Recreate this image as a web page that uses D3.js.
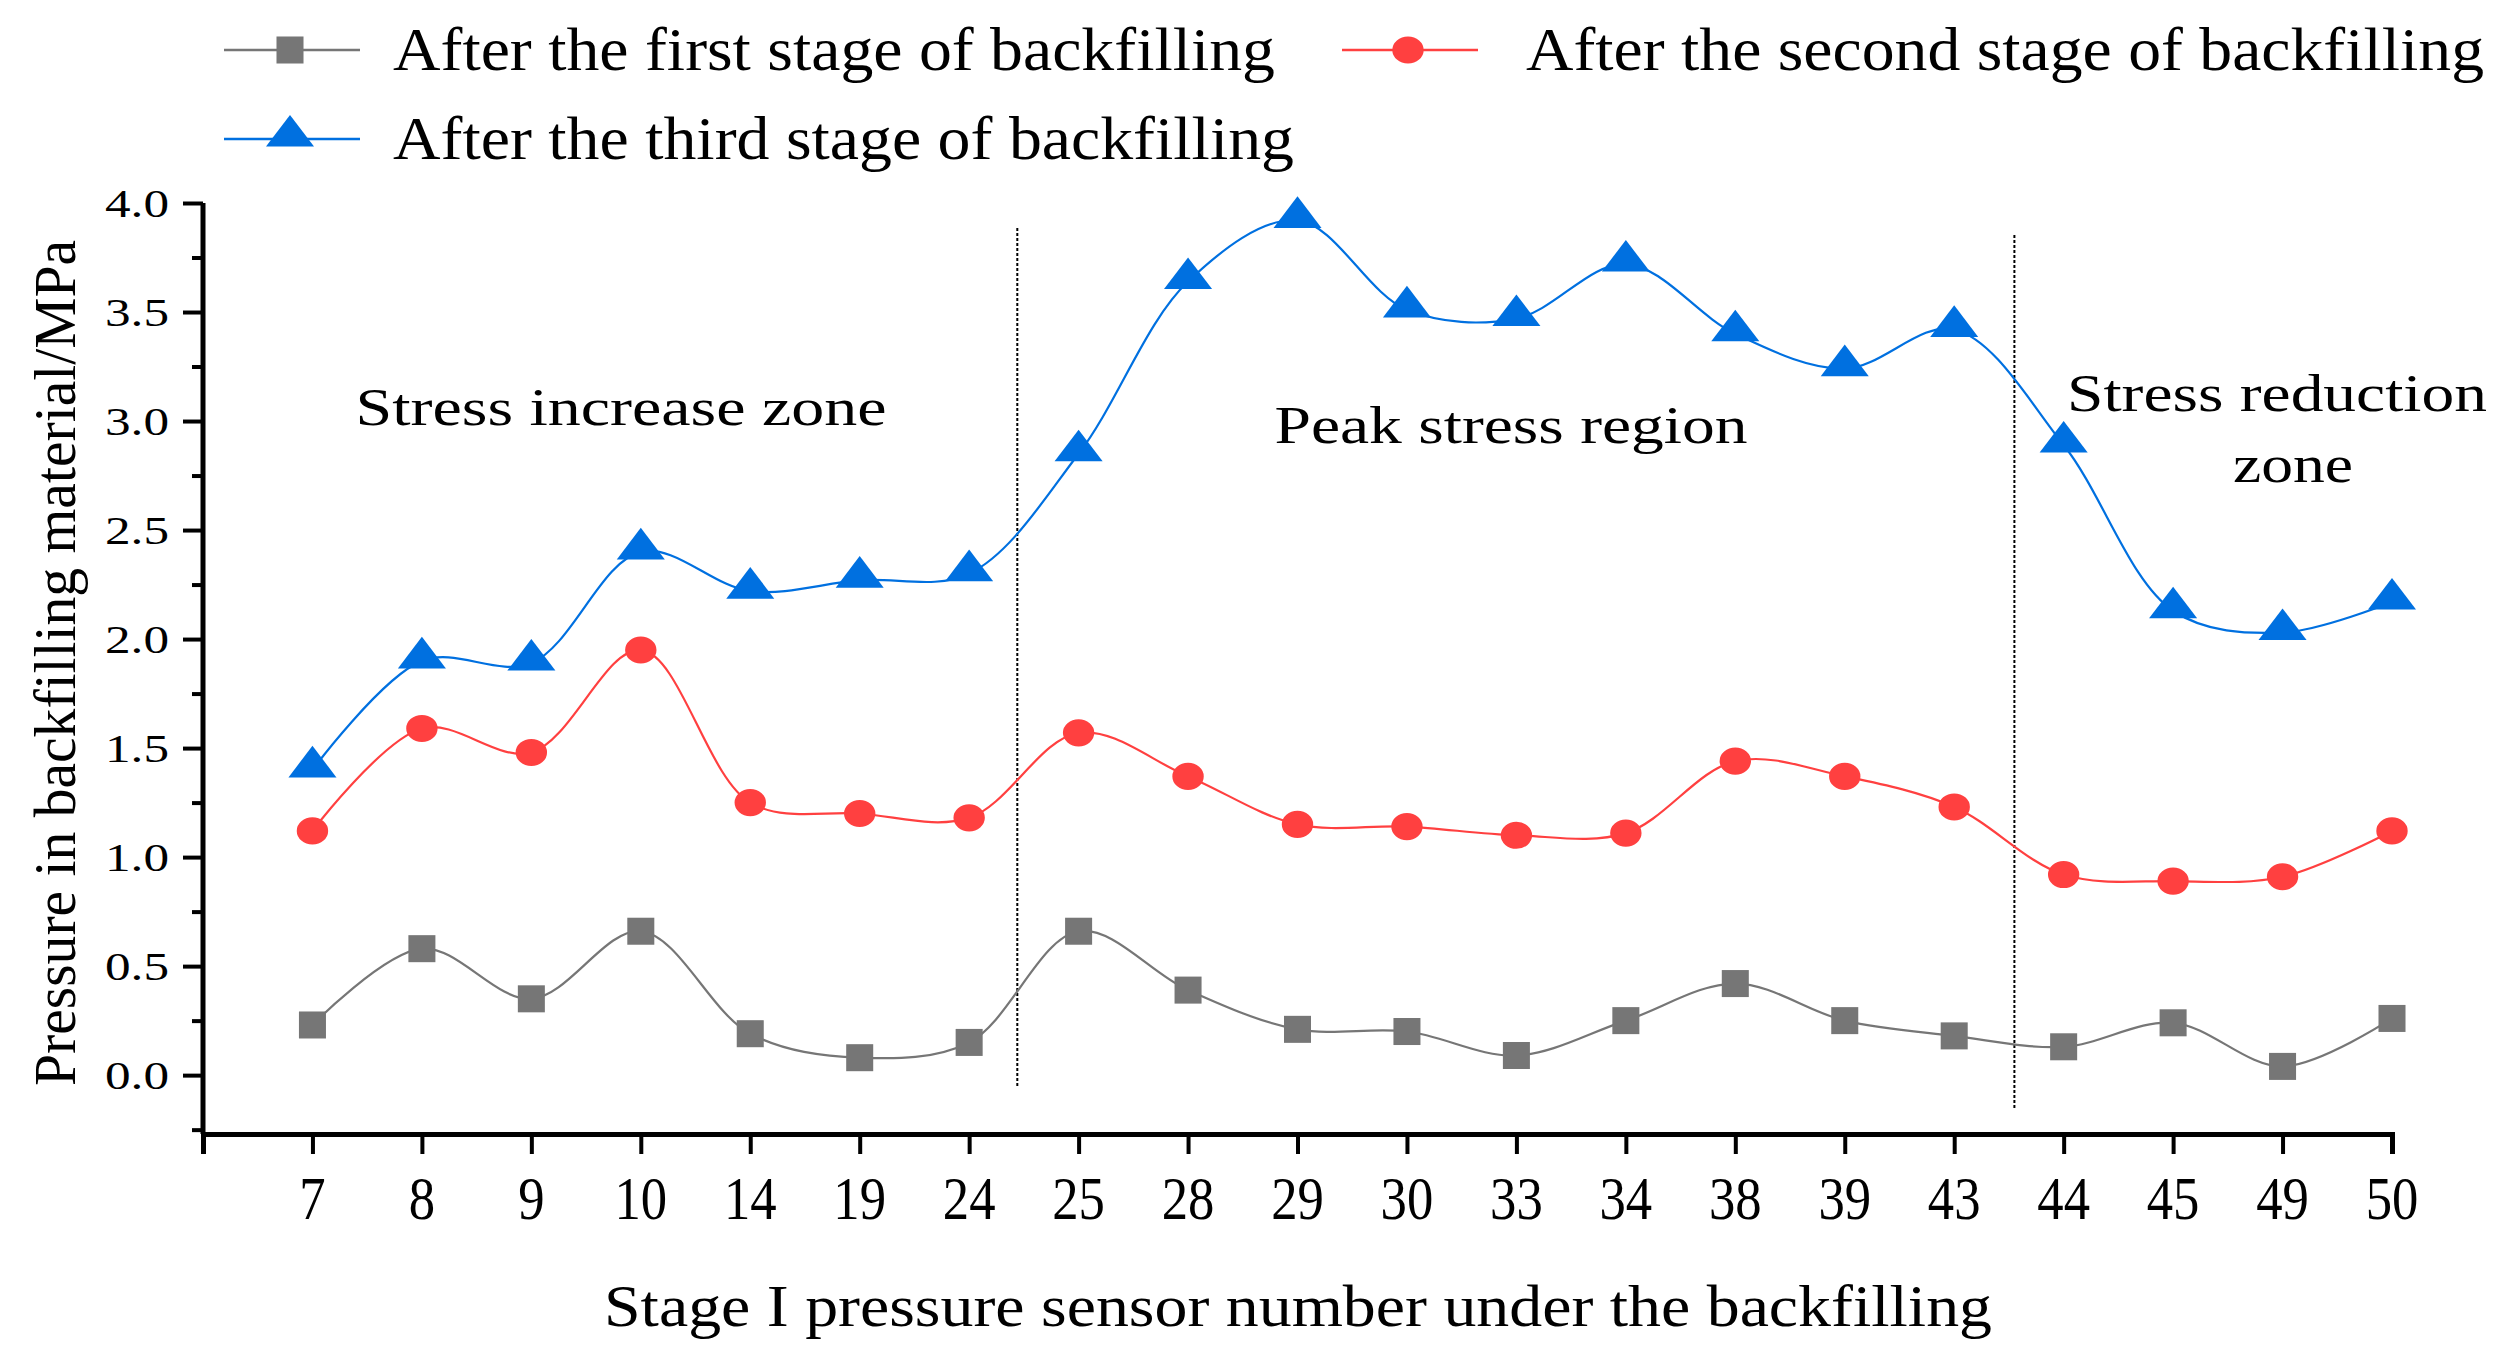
<!DOCTYPE html>
<html><head><meta charset="utf-8">
<script src="https://cdn.jsdelivr.net/npm/d3@7/dist/d3.min.js"></script>
<style>html,body{margin:0;padding:0;background:#fff;}svg{display:block;}</style>
</head><body>
<svg id="chart" width="2505" height="1351"></svg>
<script>
const categories = ["7","8","9","10","14","19","24","25","28","29","30","33","34","38","39","43","44","45","49","50"];
const firstStage  = [0.23,0.58,0.35,0.66,0.19,0.08,0.15,0.66,0.39,0.21,0.20,0.09,0.25,0.42,0.25,0.18,0.13,0.24,0.04,0.26];
const secondStage = [1.12,1.59,1.48,1.95,1.25,1.20,1.18,1.57,1.37,1.15,1.14,1.10,1.11,1.44,1.37,1.23,0.92,0.89,0.91,1.12];
const thirdStage  = [1.40,1.90,1.89,2.40,2.22,2.27,2.30,2.85,3.64,3.92,3.51,3.47,3.72,3.40,3.24,3.42,2.89,2.13,2.03,2.17];
const seriesNames = ["After the first stage of backfilling","After the second stage of backfilling","After the third stage of backfilling"];
const yTicks = [0.0,0.5,1.0,1.5,2.0,2.5,3.0,3.5,4.0];
const dividers = [7.44, 16.55];   // positions between sensors (index units)
const zoneLabels = ["Stress increase zone","Peak stress region","Stress reduction","zone"];

const svg = d3.select("#chart");
const font = "'Liberation Serif','Times New Roman',serif";

const x = d3.scaleLinear().domain([0, categories.length]).range([203, 2392]);
const y = d3.scaleLinear().domain([-0.27, 4.0]).range([1134, 203]);

// axes
const xAxis = d3.axisBottom(x).tickValues(d3.range(0, categories.length + 1)).tickSize(20).tickFormat("");
const gx = svg.append("g").attr("transform", `translate(0,${y(-0.27)})`).call(xAxis);
gx.select(".domain").attr("stroke", "#000").attr("stroke-width", 5);
gx.selectAll(".tick line").attr("stroke", "#000").attr("stroke-width", 4);

const minorVals = d3.range(-0.25, 4.0, 0.5);
const gyMinor = svg.append("g").attr("transform", `translate(${x(0)},0)`)
  .call(d3.axisLeft(y).tickValues(minorVals).tickSize(11).tickFormat(""));
gyMinor.select(".domain").remove();
gyMinor.selectAll(".tick line").attr("stroke", "#000").attr("stroke-width", 4);

const gy = svg.append("g").attr("transform", `translate(${x(0)},0)`)
  .call(d3.axisLeft(y).tickValues(yTicks).tickSize(20).tickPadding(14).tickFormat(d3.format(".1f")));
gy.select(".domain").attr("stroke", "#000").attr("stroke-width", 5)
  .attr("d", `M0,${y(4.0)}V${y(-0.27)}`);
gy.selectAll(".tick line").attr("stroke", "#000").attr("stroke-width", 4);
gy.selectAll(".tick text").attr("font-family", font).attr("font-size", 40).attr("fill", "#000")
  .attr("textLength", 64).attr("lengthAdjust", "spacingAndGlyphs").attr("dy", "0.34em");

// x tick labels
svg.append("g").selectAll("text").data(categories).join("text")
  .attr("x", (d, i) => x(i + 1)).attr("y", 1219)
  .attr("text-anchor", "middle").attr("font-family", font).attr("font-size", 62)
  .attr("fill", "#000")
  .attr("transform", (d, i) => `translate(${x(i+1)},0) scale(0.85,1) translate(${-x(i+1)},0)`)
  .text(d => d);

// axis titles
svg.append("text").attr("x", 1298).attr("y", 1326).attr("text-anchor", "middle")
  .attr("font-family", font).attr("font-size", 60).attr("fill", "#000")
  .attr("textLength", 1388).attr("lengthAdjust", "spacingAndGlyphs")
  .text("Stage I pressure sensor number under the backfilling");
svg.append("text").attr("transform", "translate(75,663) rotate(-90)").attr("text-anchor", "middle")
  .attr("font-family", font).attr("font-size", 60).attr("fill", "#000")
  .attr("textLength", 846).attr("lengthAdjust", "spacingAndGlyphs")
  .text("Pressure in backfilling material/MPa");

// dividers
svg.append("g").selectAll("line").data(dividers).join("line")
  .attr("x1", d => x(d)).attr("x2", d => x(d))
  .attr("y1", (d, i) => [228, 235][i]).attr("y2", (d, i) => [1088, 1110][i])
  .attr("stroke", "#000").attr("stroke-width", 2).attr("stroke-dasharray", "3,2");

// zone labels
const zoneDefs = [
  {t: zoneLabels[0], x: 621, y: 425, w: 531},
  {t: zoneLabels[1], x: 1511, y: 443, w: 473},
  {t: zoneLabels[2], x: 2277, y: 411, w: 420},
  {t: zoneLabels[3], x: 2293, y: 482, w: 120}
];
svg.append("g").selectAll("text").data(zoneDefs).join("text")
  .attr("x", d => d.x).attr("y", d => d.y).attr("text-anchor", "middle")
  .attr("font-family", font).attr("font-size", 52).attr("fill", "#000")
  .attr("textLength", d => d.w).attr("lengthAdjust", "spacingAndGlyphs")
  .text(d => d.t);

// series
const colors = ["#767676", "#ff4040", "#0070e0"];
const shapes = [d3.symbolSquare, d3.symbolCircle, d3.symbolTriangle];
const sizes = [730, 640, 640];
const allSeries = [firstStage, secondStage, thirdStage];
const line = d3.line().x((d, i) => x(i + 1)).y(d => y(d)).curve(d3.curveCatmullRom.alpha(0.5));

allSeries.forEach((vals, s) => {
  svg.append("path").datum(vals).attr("d", line).attr("fill", "none")
    .attr("stroke", colors[s]).attr("stroke-width", 2.2);
  svg.append("g").selectAll("path").data(vals).join("path")
    .attr("d", d3.symbol().type(shapes[s]).size(sizes[s]))
    .attr("transform", (d, i) => `translate(${x(i + 1)},${y(d) - (s === 2 ? 3 : 0)})` + (s === 1 ? " scale(1.1,0.95)" : "") + (s === 2 ? " scale(1.25,0.95)" : ""))
    .attr("fill", colors[s]);
});

// legend
const legendDefs = [
  {lx: 224, ly: 50, tx: 393, w: 882},
  {lx: 1342, ly: 50, tx: 1526, w: 958},
  {lx: 224, ly: 139, tx: 393, w: 901}
];
legendDefs.forEach((L, s) => {
  svg.append("line").attr("x1", L.lx).attr("x2", L.lx + 136).attr("y1", L.ly).attr("y2", L.ly)
    .attr("stroke", colors[s]).attr("stroke-width", 2.5);
  svg.append("path").attr("d", d3.symbol().type(shapes[s]).size(sizes[s]))
    .attr("transform", `translate(${L.lx + 66},${L.ly - (s === 2 ? 3 : 0)})` + (s === 1 ? " scale(1.1,0.95)" : "") + (s === 2 ? " scale(1.25,0.95)" : ""))
    .attr("fill", colors[s]);
  svg.append("text").attr("x", L.tx).attr("y", L.ly + 20)
    .attr("font-family", font).attr("font-size", 62).attr("fill", "#000")
    .attr("textLength", L.w).attr("lengthAdjust", "spacingAndGlyphs")
    .text(seriesNames[s]);
});
</script>
</body></html>
